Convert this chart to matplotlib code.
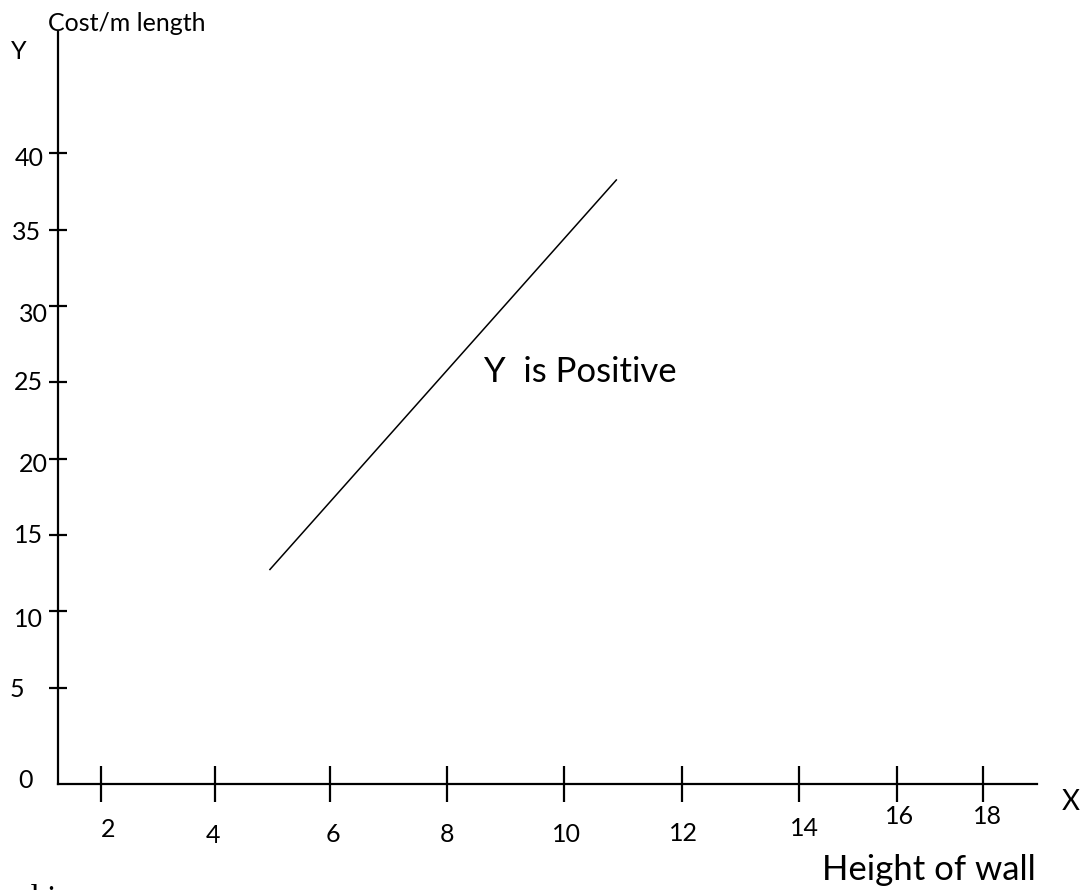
import matplotlib
matplotlib.use("Agg")
import matplotlib.pyplot as plt

plt.rcParams['font.family'] = ['Lato', 'DejaVu Sans']

# line drawn on the sketch: height of wall vs cost per m length
wall_height = [4.9, 10.87]
cost_per_m = [12.7, 38.3]

x_labels = ['2', '4', '6', '8', '10', '12', '14', '16', '18']
# hand-drawn tick spacing (the last two ticks are squeezed)
x_tick_pos = [2, 3.97, 5.94, 7.96, 9.97, 11.99, 14, 15.68, 17.16]
x_lab_dx = [7, -2, 3, 0, 2, 1, 5, 3, 5]
x_lab_dy = [-53, -59, -58, -58, -58, -57, -52, -40, -40]

y_ticks = [5, 10, 15, 20, 25, 30, 35, 40]
y_labels = ['0', '5', '10', '15', '20', '25', '30', '35', '40']
y_lab_val = [0, 5, 10, 15, 20, 25, 30, 35, 40]
y_lab_dx = [-25, -34, -15, -15, -10, -15, -10, -17, -14]
y_lab_dy = [-24, -9, -16, -8, -13, -8, -16, -10, -13]

W, H = 1083, 890
fig = plt.figure(figsize=(W / 100, H / 100), dpi=100)
ax = fig.add_axes([58 / W, (H - 784) / H, (1037 - 58) / W, (784 - 32) / H])

ax.plot(wall_height, cost_per_m, color='black', lw=1.1, solid_capstyle='butt')

ax.set_xlim(1.267, 18.09)
ax.set_ylim(-1.32, 47.96)
for s in ['top', 'right']:
    ax.spines[s].set_visible(False)
for s in ['left', 'bottom']:
    ax.spines[s].set_linewidth(1.6)

ax.set_xticks(x_tick_pos)
ax.set_yticks(y_ticks)
ax.tick_params(axis='x', direction='inout', length=26, width=1.6, labelbottom=False)
ax.tick_params(axis='y', direction='inout', length=13, width=1.6, labelleft=False)

for pos, lab, dx, dy in zip(x_tick_pos, x_labels, x_lab_dx, x_lab_dy):
    ax.annotate(lab, xy=(pos, 0), xycoords=('data', 'axes fraction'),
                xytext=(dx, dy), textcoords='offset pixels',
                ha='center', va='baseline', fontsize=18, annotation_clip=False)

for val, lab, dx, dy in zip(y_lab_val, y_labels, y_lab_dx, y_lab_dy):
    ax.annotate(lab, xy=(0, val), xycoords=('axes fraction', 'data'),
                xytext=(dx, dy), textcoords='offset pixels',
                ha='right', va='baseline', fontsize=18, annotation_clip=False)

ax.text(8.59, 25.0, 'Y  is Positive', fontsize=25, va='baseline', ha='left')

# axis names around the sketch
fig.text(48 / W, (H - 31) / H, 'Cost/m length', fontsize=18, va='baseline')
fig.text(11 / W, (H - 59) / H, 'Y', fontsize=18, va='baseline')
fig.text(1062 / W, (H - 810) / H, 'X', fontsize=20, va='baseline')
fig.text(822 / W, (H - 880) / H, 'Height of wall', fontsize=25, va='baseline')
fig.text(22 / W, -18 / H, 'd i', fontsize=24, family='Liberation Serif', va='baseline')

fig.savefig('out.png', dpi=100)
